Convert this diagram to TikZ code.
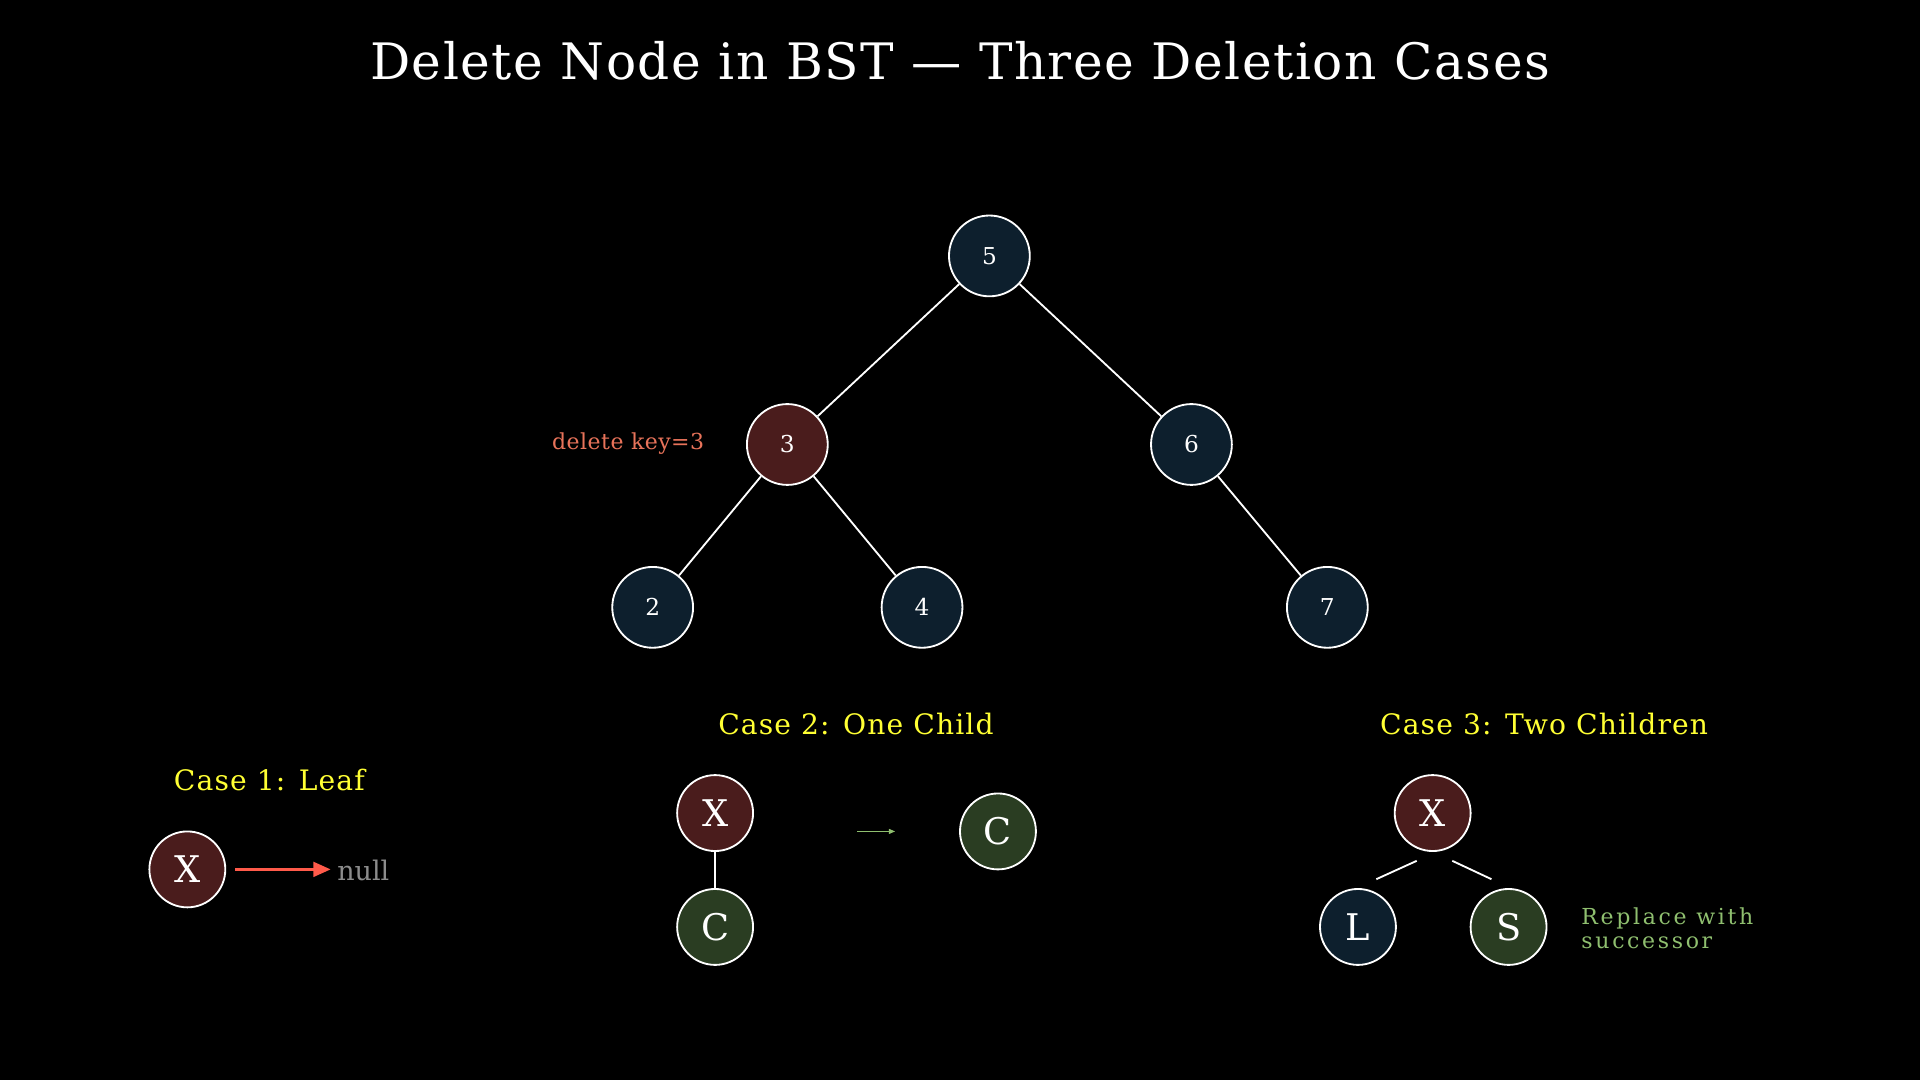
\documentclass[tikz,border=0pt]{standalone}
\usepackage{fontspec}
\setmainfont{DejaVu Serif}
\usetikzlibrary{arrows.meta}
\definecolor{navy}{HTML}{0D1F2D}
\definecolor{dred}{HTML}{4A1C1C}
\definecolor{dgreen}{HTML}{2A3D22}
\definecolor{salmon}{HTML}{E8735A}
\definecolor{arrred}{HTML}{FF5A4A}
\definecolor{lgreen}{HTML}{8FBF6F}
\definecolor{cyel}{HTML}{FFFF33}
\begin{document}
\begin{tikzpicture}[x=1pt,y=-1pt,
  tn/.style={circle,draw=white,line width=1.5pt,minimum size=66pt,inner sep=0pt,text=white,font=\fontsize{19}{20}\selectfont},
  cn/.style={circle,draw=white,line width=1.5pt,minimum size=62pt,inner sep=0pt,text=white,font=\fontsize{30}{30}\selectfont},
  edge/.style={white,line width=1.5pt},
  lab/.style={text=cyel,font=\fontsize{23}{24}\selectfont\addfontfeatures{LetterSpace=4}}]
\fill[black] (0,0) rectangle (1568,882);
\useasboundingbox (0,0) rectangle (1568,882);
\node[text=white,font=\fontsize{41}{44}\selectfont\addfontfeatures{LetterSpace=3}] (title) at (784,50) {Delete Node in BST — Three Deletion Cases};
\node[tn,fill=navy] (n5) at (808,209) {5};
\node[tn,fill=dred] (n3) at (643,363) {3};
\node[tn,fill=navy] (n6) at (973,363) {6};
\node[tn,fill=navy] (n2) at (533,496) {2};
\node[tn,fill=navy] (n4) at (753,496) {4};
\node[tn,fill=navy] (n7) at (1084,496) {7};
\draw[edge] (n5)--(n3); \draw[edge] (n5)--(n6);
\draw[edge] (n3)--(n2); \draw[edge] (n3)--(n4); \draw[edge] (n6)--(n7);
\node[text=salmon,font=\fontsize{18}{20}\selectfont\addfontfeatures{LetterSpace=2}] (dk) at (513,362) {delete key=3};
% case 1
\node[lab] (c1) at (220,637) {Case 1: Leaf};
\node[cn,fill=dred] (x1) at (153,710) {X};
\node[text=gray!90,font=\fontsize{22}{24}\selectfont,anchor=west] (null) at (272,711) {null};
\coordinate (a1s) at (192,710); \coordinate (a1e) at (270,710);
\draw[arrred,line width=2pt,-{Triangle[length=14pt,width=12pt]}] (a1s) -- (a1e);
% case 2
\node[lab] (c2) at (699,591) {Case 2: One Child};
\node[cn,fill=dred] (x2) at (584,664) {X};
\node[cn,fill=dgreen] (cc2) at (584,757) {C};
\draw[edge] (x2)--(cc2);
\coordinate (a2s) at (700,679); \coordinate (a2e) at (731,679);
\draw[lgreen,line width=1pt,-{Triangle[length=5pt,width=4pt]}] (a2s)--(a2e);
\node[cn,fill=dgreen] (c2b) at (815,679) {C};
% case 3
\node[lab] (c3) at (1261,591) {Case 3: Two Children};
\node[cn,fill=dred] (x3) at (1170,664) {X};
\node[cn,fill=navy] (l3) at (1109,757) {L};
\node[cn,fill=dgreen] (s3) at (1232,757) {S};
\coordinate (e1a) at (1157,703); \coordinate (e1b) at (1124,718);
\coordinate (e2a) at (1186,703); \coordinate (e2b) at (1218,718);
\draw[edge] (e1a)--(e1b); \draw[edge] (e2a)--(e2b);
\node[text=lgreen,font=\fontsize{18}{20}\selectfont\addfontfeatures{LetterSpace=12},anchor=west,align=left] (rep) at (1288,758) {Replace with\\successor};
\end{tikzpicture}
\end{document}
